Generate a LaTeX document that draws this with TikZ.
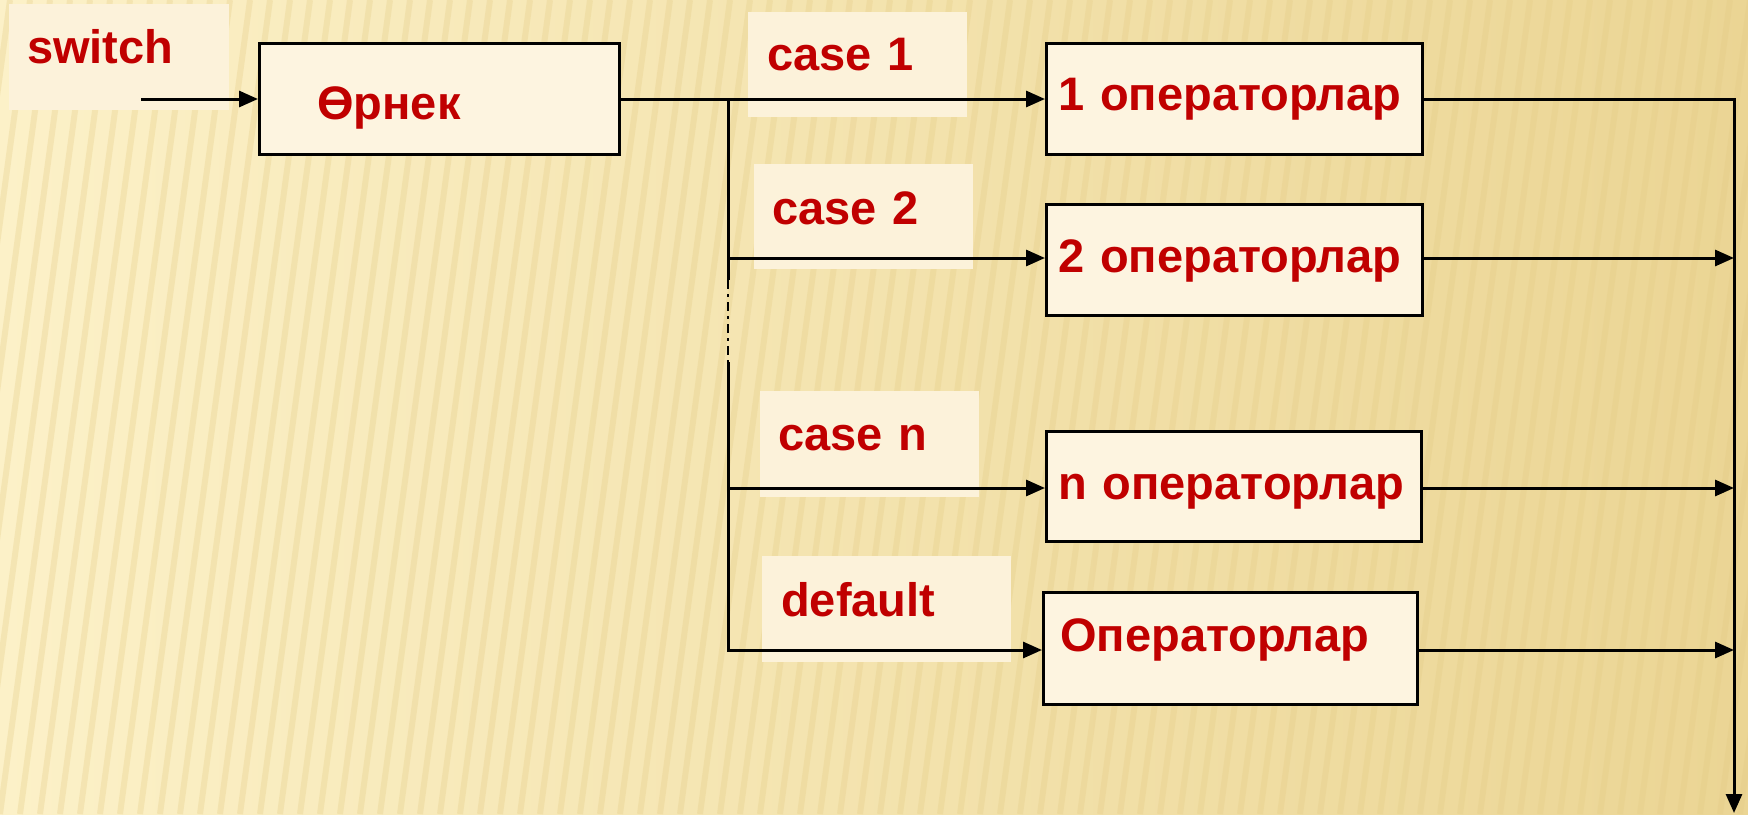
\documentclass[tikz,border=0pt]{standalone}
\usepackage{fontspec}
\setmainfont{Liberation Sans}
\usetikzlibrary{arrows.meta}
\definecolor{bgA}{HTML}{FCF1C8}
\definecolor{bgB}{HTML}{EBD594}
\definecolor{stripe}{HTML}{E4CB84}
\definecolor{cream}{HTML}{FCF2DA}
\definecolor{boxfill}{HTML}{FDF4E0}
\definecolor{txt}{HTML}{C00000}
\tikzset{
  basebox/.style={anchor=north west, inner ysep=0pt, align=left,
    font=\fontsize{47}{50}\selectfont\bfseries, text=txt},
  lbl/.style={basebox, fill=cream},
  opbox/.style={basebox, draw=black, line width=2.5pt, fill=boxfill},
  conn/.style={line width=3pt, draw=black},
  arr/.style={conn, -{Triangle[length=19pt,width=16pt]}},
  dotseg/.style={line width=2.2pt, draw=black, dash pattern=on 9pt off 5pt on 3pt off 5pt},
}
\begin{document}
\begin{tikzpicture}[x=1pt,y=-1pt]
\useasboundingbox (0,0) rectangle (1748,814);
\shade[left color=bgA, right color=bgB] (0,0) rectangle (1748,814);
\begin{scope}
  \clip (0,0) rectangle (1748,814);
  \foreach \s in {-200,-180,...,1760}
    \draw[stripe, opacity=0.3, line width=6pt] (\s,814) -- (\s+110,0);
\end{scope}

% labels
\node[lbl, inner xsep=18pt, text width=184pt, text height=59pt, text depth=47pt] (lsw) at (9,4) {switch};
\node[lbl, inner xsep=19pt, text width=181pt, text height=58pt, text depth=47pt] (lc1) at (748,12) {case 1};
\node[lbl, inner xsep=18pt, text width=183pt, text height=60pt, text depth=45pt] (lc2) at (754,164) {case 2};
\node[lbl, inner xsep=18pt, text width=183pt, text height=59pt, text depth=47pt] (lcn) at (760,391) {case n};
\node[lbl, inner xsep=19pt, text width=211pt, text height=60pt, text depth=46pt] (ldef) at (762,556) {default};

% boxes
\node[opbox, inner xsep=58pt, text width=244pt, text height=76pt, text depth=35pt] (expr) at (258,42) {Өрнек};
\node[opbox, inner xsep=12pt, text width=352pt, text height=67pt, text depth=44pt] (op1) at (1045,42) {1 операторлар};
\node[opbox, inner xsep=12pt, text width=352pt, text height=68pt, text depth=43pt] (op2) at (1045,203) {2 операторлар};
\node[opbox, inner xsep=12pt, text width=351pt, text height=68pt, text depth=42pt] (opn) at (1045,430) {n операторлар};
\node[opbox, inner xsep=17pt, text width=340pt, text height=59pt, text depth=53pt] (opd) at (1042,591) {Операторлар};

% coordinates
\coordinate (in) at (141,99);
\coordinate (sp) at (728,99);
\coordinate (d1) at (728,280);
\coordinate (d2) at (728,362);
\coordinate (b2) at (728,258);
\coordinate (bn) at (728,488);
\coordinate (bd) at (728,650);
\coordinate (r1) at (1734,99);
\coordinate (rend) at (1734,813);

% connectors
\draw[arr] (in) -- (in -| expr.west);
\draw[arr] (in -| expr.east) -- (in -| op1.west);
\draw[conn] (sp) -- (d1);
\draw[dotseg] (d1) -- (d2);
\draw[arr] (d2) -- (bd) -- (bd -| opd.west);
\draw[arr] (b2) -- (b2 -| op2.west);
\draw[arr] (bn) -- (bn -| opn.west);
\draw[arr] (r1 -| op1.east) -- (r1) -- (rend);
\draw[arr] (b2 -| op2.east) -- (b2 -| r1);
\draw[arr] (bn -| opn.east) -- (bn -| r1);
\draw[arr] (bd -| opd.east) -- (bd -| r1);
\end{tikzpicture}
\end{document}
